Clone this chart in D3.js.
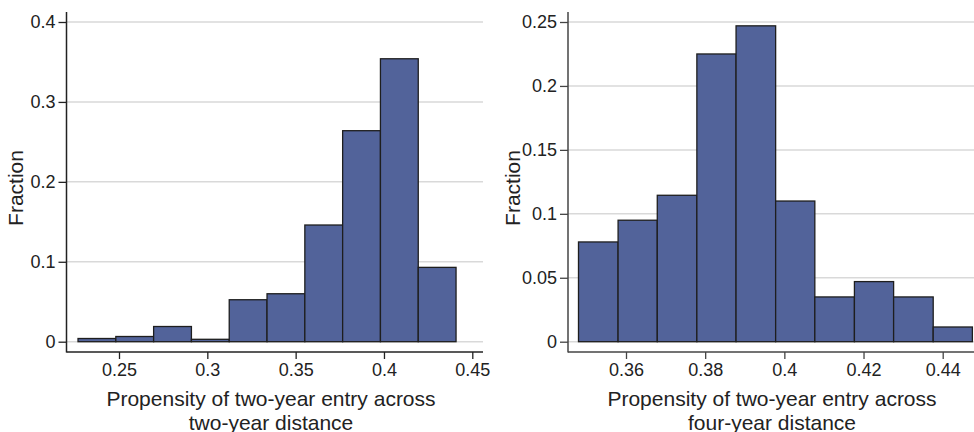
<!DOCTYPE html>
<html>
<head>
  <title>Propensity histograms</title>
  <script type="text/javascript" src="https://d3js.org/d3.v7.min.js"></script>
  <style>
    body { margin: 0; background: #fff; }
    svg text { font-family: "Liberation Sans", Arial, sans-serif; fill: #222; }
  </style>
</head>
<body>
  <svg class="chart" width="974" height="432"></svg>

<script type="text/javascript">

    // left panel: two-year distance
    const leftEdges = [0.2268, 0.2482, 0.2696, 0.2910, 0.3124, 0.3338, 0.3552, 0.3766, 0.3980, 0.4194, 0.4408];
    const leftValues = [0.004, 0.0065, 0.019, 0.003, 0.0525, 0.06, 0.146, 0.264, 0.354, 0.093];
    const leftXTicks = [0.25, 0.3, 0.35, 0.4, 0.45];
    const leftYTicks = [0, 0.1, 0.2, 0.3, 0.4];

    // right panel: four-year distance
    const rightEdges = [0.3480, 0.3580, 0.3679, 0.3779, 0.3878, 0.3978, 0.4077, 0.4177, 0.4276, 0.4376, 0.4475];
    const rightValues = [0.078, 0.095, 0.1145, 0.225, 0.247, 0.11, 0.035, 0.047, 0.035, 0.0115];
    const rightXTicks = [0.36, 0.38, 0.4, 0.42, 0.44];
    const rightYTicks = [0, 0.05, 0.1, 0.15, 0.2, 0.25];

    const yLabel = "Fraction";
    const leftTitle = ["Propensity of two-year entry across", "two-year distance"];
    const rightTitle = ["Propensity of two-year entry across", "four-year distance"];

    const svg = d3.select(".chart");

    function drawPanel(opt) {
        const g = svg.append("g");

        const x = d3.scaleLinear().domain(opt.xDomain).range(opt.xRange);
        const y = d3.scaleLinear().domain(opt.yDomain).range([341.7, 22]);

        // gridlines
        g.selectAll(".grid")
            .data(opt.yTicks)
            .join("line")
            .attr("x1", opt.left)
            .attr("x2", opt.right)
            .attr("y1", d => y(d))
            .attr("y2", d => y(d))
            .attr("stroke", "#d9d9d9")
            .attr("stroke-width", 1.5);

        // bars
        const bins = opt.values.map((v, i) => ({x0: opt.edges[i], x1: opt.edges[i + 1], v: v}));
        g.selectAll(".bar")
            .data(bins)
            .join("rect")
            .attr("x", d => x(d.x0))
            .attr("width", d => x(d.x1) - x(d.x0))
            .attr("y", d => y(d.v))
            .attr("height", d => y(0) - y(d.v))
            .attr("fill", "#52639a")
            .attr("stroke", "#1e1e1e")
            .attr("stroke-width", 1.3);

        // y axis
        const yAxis = d3.axisLeft(y)
            .tickValues(opt.yTicks)
            .tickFormat(d => String(d))
            .tickSize(8)
            .tickPadding(3);
        const ya = g.append("g")
            .attr("transform", "translate(" + opt.left + ",0)")
            .call(yAxis);
        ya.select(".domain").remove();
        ya.selectAll("text").style("font-size", "18px").attr("fill", "#222");
        ya.selectAll("line").attr("stroke", opt.axisColor).attr("stroke-width", 1.3);

        // x axis
        const xAxis = d3.axisBottom(x)
            .tickValues(opt.xTicks)
            .tickFormat(d => String(d))
            .tickSize(7)
            .tickPadding(4.5);
        const xa = g.append("g")
            .attr("transform", "translate(0,352)")
            .call(xAxis);
        xa.select(".domain").remove();
        xa.selectAll("text").style("font-size", "18px").attr("fill", "#222");
        xa.selectAll("line").attr("stroke", opt.axisColor).attr("stroke-width", 1.3);

        // axis lines
        g.append("line")
            .attr("x1", opt.left).attr("x2", opt.left)
            .attr("y1", 12).attr("y2", 352.5)
            .attr("stroke", opt.axisColor).attr("stroke-width", 1.5);
        g.append("line")
            .attr("x1", opt.left).attr("x2", opt.right)
            .attr("y1", 352).attr("y2", 352)
            .attr("stroke", opt.axisColor).attr("stroke-width", 1.5);

        // y title
        g.append("text")
            .attr("transform", "translate(" + opt.yTitleX + ",188) rotate(-90)")
            .attr("text-anchor", "middle")
            .style("font-size", "21px")
            .text(yLabel);

        // x title
        const t = g.append("text")
            .attr("text-anchor", "middle")
            .style("font-size", "21px");
        t.selectAll("tspan")
            .data(opt.title)
            .join("tspan")
            .attr("x", opt.titleX)
            .attr("y", (d, i) => 406 + i * 24)
            .text(d => d);
    }

    drawPanel({
        edges: leftEdges, values: leftValues,
        xTicks: leftXTicks, yTicks: leftYTicks,
        xDomain: [0.25, 0.45], xRange: [119, 472.3],
        yDomain: [0, 0.4],
        left: 66.5, right: 483,
        axisColor: "#222",
        yTitleX: 23, titleX: 271,
        title: leftTitle
    });

    drawPanel({
        edges: rightEdges, values: rightValues,
        xTicks: rightXTicks, yTicks: rightYTicks,
        xDomain: [0.36, 0.44], xRange: [626, 942.7],
        yDomain: [0, 0.25],
        left: 568, right: 974,
        axisColor: "#444",
        yTitleX: 520, titleX: 772,
        title: rightTitle
    });

</script>
</body>
</html>
